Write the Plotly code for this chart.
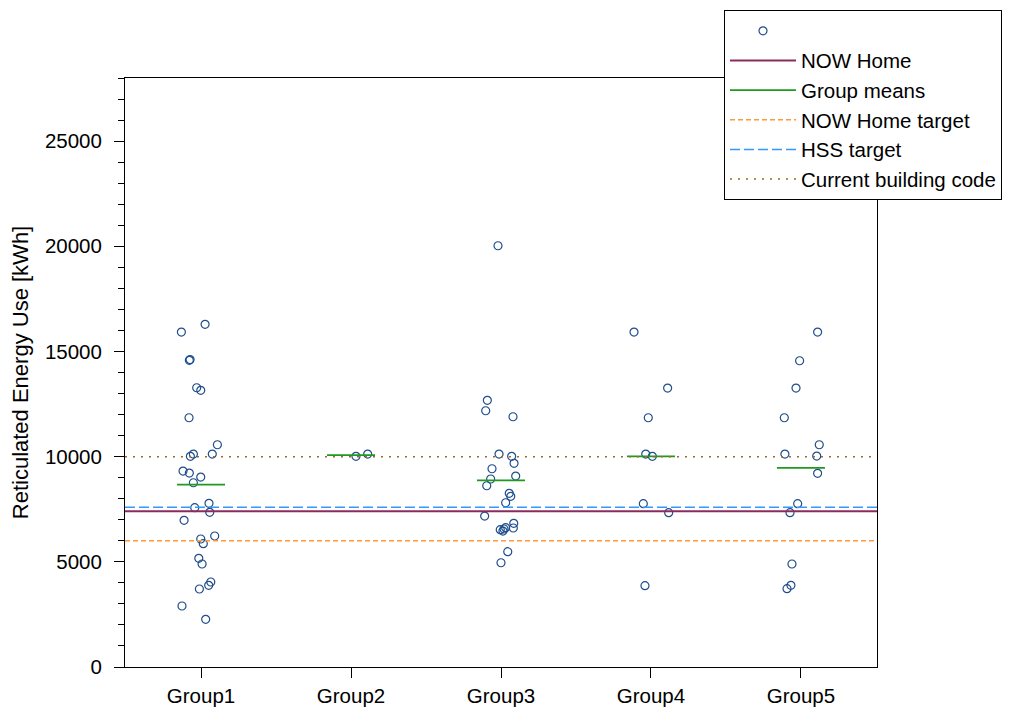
import numpy as np
import plotly.graph_objects as go

groups = ["Group1", "Group2", "Group3", "Group4", "Group5"]

# energy use values (kWh) per group, and jittered x-offsets
g1_vals = [16289, 15923, 14615, 14578, 13275, 13151, 11850, 10566, 10124, 10014, 10124,
           9316, 9221, 9031, 8760, 7781, 7572, 7353, 6973, 6227, 6084, 5861, 5167, 4896,
           4040, 3883, 3707, 2899, 2267]
g1_jit = [0.027, -0.131, -0.073, -0.078, -0.029, -0.002, -0.080, 0.109, -0.051, -0.071, 0.075,
          -0.120, -0.078, -0.002, -0.051, 0.053, -0.042, 0.058, -0.113, 0.091, -0.002, 0.015,
          -0.015, 0.007, 0.065, 0.051, -0.011, -0.127, 0.031]
g2_vals = [10014, 10124]
g2_jit = [0.033, 0.111]
g3_vals = [20025, 12676, 12182, 11897, 10124, 10014, 9682, 9425, 9078, 8936, 8617, 8256, 8113,
           7809, 7177, 6830, 6607, 6621, 6526, 6464, 6560, 5480, 4957]
g3_jit = [-0.020, -0.091, -0.102, 0.080, -0.013, 0.071, 0.087, -0.060, 0.098, -0.069, -0.095,
          0.055, 0.065, 0.031, -0.109, 0.085, 0.082, 0.031, -0.005, 0.013, 0.020, 0.045, 0.000]
g4_vals = [15923, 13261, 11850, 10124, 10014, 7762, 7334, 3864]
g4_jit = [-0.113, 0.111, -0.018, -0.035, 0.009, -0.051, 0.118, -0.040]
g5_vals = [15923, 14559, 13261, 11850, 10566, 10124, 10029, 9206, 7762, 7334, 4896, 3883, 3722]
g5_jit = [0.111, -0.009, -0.033, -0.111, 0.122, -0.107, 0.105, 0.111, -0.022, -0.073, -0.060,
          -0.067, -0.093]

now_home = 7400
now_home_target = 6000
hss_target = 7600
building_code = 10000

y_ticks = [0, 5000, 10000, 15000, 20000, 25000]
y_ticktext = ["0", "5000", "10000", "15000", "20000", "25000"]

all_vals = [g1_vals, g2_vals, g3_vals, g4_vals, g5_vals]
all_jit = [g1_jit, g2_jit, g3_jit, g4_jit, g5_jit]

xr = [0.493, 5.507]
yr = [0, 28000]

px, py = [], []
for i, (v, j) in enumerate(zip(all_vals, all_jit)):
    px += [i + 1 + d for d in j]
    py += v

mx, my = [], []
for i, v in enumerate(all_vals):
    m = float(np.mean(v))
    mx += [i + 1 - 0.16, i + 1 + 0.16, None]
    my += [m, m, None]

fig = go.Figure()
fig.add_trace(go.Scatter(x=px, y=py, mode="markers", name="",
                         marker=dict(symbol="circle-open", size=8, color="#1f4e8c",
                                     line=dict(width=1.2, color="#1f4e8c"))))
fig.add_trace(go.Scatter(x=xr, y=[now_home] * 2, mode="lines", name="NOW Home",
                         line=dict(color="#8b2a5e", width=2)))
fig.add_trace(go.Scatter(x=mx, y=my, mode="lines", name="Group means",
                         line=dict(color="#1e9a1e", width=1.8)))
fig.add_trace(go.Scatter(x=xr, y=[now_home_target] * 2, mode="lines", name="NOW Home target",
                         line=dict(color="#ff9a3c", width=1.5, dash="5px,3px")))
fig.add_trace(go.Scatter(x=xr, y=[hss_target] * 2, mode="lines", name="HSS target",
                         line=dict(color="#3399ff", width=1.5, dash="10px,4px")))
fig.add_trace(go.Scatter(x=xr, y=[building_code] * 2, mode="lines", name="Current building code",
                         line=dict(color="#a8642a", width=1.5, dash="2px,6px")))

font = "Liberation Sans, Arial, sans-serif"
W, H = 1005, 708
L, T = 117, 70
PW, PH = 752, 589
fig.update_layout(
    width=W, height=H,
    margin=dict(l=L, r=W - L - PW, t=T, b=H - T - PH, autoexpand=False),
    paper_bgcolor="white", plot_bgcolor="white",
    font=dict(family=font, size=20, color="black"),
    showlegend=True,
    legend=dict(x=(716 - L) / PW, y=(T + PH - 2) / PH, xanchor="left", yanchor="top",
                bordercolor="black", borderwidth=1, bgcolor="white",
                font=dict(size=20.5, family=font), itemwidth=66,
                tracegroupgap=0),
    xaxis=dict(range=xr, tickmode="array", tickvals=[1, 2, 3, 4, 5], ticktext=groups,
               showgrid=False, zeroline=False, showline=True, linecolor="black",
               linewidth=1, mirror=True, ticks="outside", ticklen=10, tickcolor="black",
               tickfont=dict(size=20.5), automargin=False),
    yaxis=dict(range=yr, tickmode="array", tickvals=y_ticks, ticktext=y_ticktext,
               showgrid=False, zeroline=False, showline=True, linecolor="black",
               linewidth=1, mirror=True, ticks="outside", ticklen=10, tickcolor="black",
               tickfont=dict(size=20.5), automargin=False, ticklabelstandoff=8,
               minor=dict(ticks="outside", ticklen=6, dtick=1000, tick0=0,
                          tickcolor="black", showgrid=False),
               title=dict(text="Reticulated Energy Use [kWh]", font=dict(size=22), standoff=28)),
)

fig.write_html("out.html")
